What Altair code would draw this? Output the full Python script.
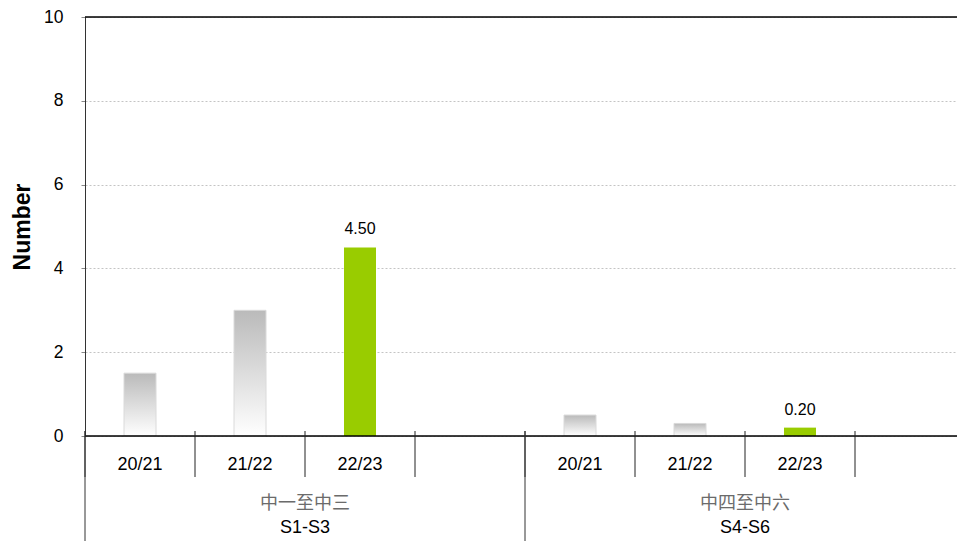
import altair as alt
import pandas as pd

# ---- data ----
years = ["20/21", "21/22", "22/23"]
groups_en = ["S1-S3", "S4-S6"]
groups_zh = ["中一至中三", "中四至中六"]
values_s1_s3 = [1.5, 3.0, 4.5]
values_s4_s6 = [0.5, 0.3, 0.2]
highlight_year = "22/23"
y_ticks = [0, 2, 4, 6, 8, 10]

FONT = "Liberation Sans, Arial, Noto Sans CJK TC"

rows = []
slots = []
for g, vals in zip(groups_en, [values_s1_s3, values_s4_s6]):
    for yr, v in zip(years, vals):
        rows.append({"slot": f"{g}|{yr}", "group": g, "year": yr, "value": v})
        slots.append(f"{g}|{yr}")
    slots.append(f"{g}|gap")
df = pd.DataFrame(rows)
sdf = pd.DataFrame({"slot": slots, "value": [0] * len(slots)})
gdf = pd.DataFrame({
    "group": groups_en, "zh": groups_zh,
    "mid_slot": [f"{g}|{years[1]}" for g in groups_en],
    "first_slot": [f"{g}|{years[0]}" for g in groups_en],
    "value": [0, 0],
})

W, H = 872, 419
RANGE = [0, 880]

xs = alt.Scale(domain=slots, range=RANGE, paddingInner=0, paddingOuter=0)
ys = alt.Scale(domain=[0, 10], nice=False)

x_axis = alt.Axis(
    orient="bottom", title=None, domain=False, ticks=False, labelAngle=0,
    labelExpr="indexof(datum.value,'gap') >= 0 ? '' : split(datum.value,'|')[1]",
    labelFontSize=18, labelFont=FONT, labelColor="#000", labelPadding=19,
)
x_enc = alt.X("slot:N", scale=xs, sort=slots, axis=x_axis)
y_enc = alt.Y(
    "value:Q", scale=ys,
    axis=alt.Axis(
        values=y_ticks, grid=True, gridDash=[2, 2], gridColor="#c4c4c4",
        domainColor="#333", tickColor="#888", tickSize=4,
        labelFontSize=17.5, labelFont=FONT, labelColor="#000", labelPadding=18,
        title="Number", titleFontSize=23, titleFont=FONT, titleFontWeight="bold",
        titleColor="#000", titlePadding=9,
    ),
)

gray_grad = alt.Gradient(
    gradient="linear", x1=0, x2=0, y1=0, y2=1,
    stops=[alt.GradientStop(color="#bababa", offset=0),
           alt.GradientStop(color="#ffffff", offset=1)],
)

base = alt.Chart(df)
gray_bars = base.transform_filter(alt.datum.year != highlight_year).mark_bar(
    size=32, color=gray_grad, stroke="#dadada", strokeWidth=1
).encode(x=x_enc, y=y_enc)
green_bars = base.transform_filter(alt.datum.year == highlight_year).mark_bar(
    size=32, color="#99cc00"
).encode(x=x_enc, y=y_enc)
labels = base.transform_filter(alt.datum.year == highlight_year).mark_text(
    font=FONT, fontSize=16, color="#000", baseline="middle", dy=-18
).encode(x=x_enc, y=y_enc, text=alt.Text("value:Q", format=".2f"))

top_line = alt.Chart(pd.DataFrame({"value": [10]})).mark_rule(color="#000", strokeWidth=1.5).encode(
    y=alt.Y("value:Q", scale=ys))
base_line = alt.Chart(pd.DataFrame({"value": [0]})).mark_rule(color="#000", strokeWidth=1.3).encode(
    y=alt.Y("value:Q", scale=ys))

# slot separators (short) and group separators (long)
slot_sep = alt.Chart(sdf).mark_rule(color="#222", strokeWidth=1).encode(
    x=alt.X("slot:N", scale=xs, bandPosition=0),
    y=alt.value(H - 5), y2=alt.value(H + 41),
)
gbase = alt.Chart(gdf)
grp_sep = gbase.mark_rule(color="#333", strokeWidth=1).encode(
    x=alt.X("first_slot:N", scale=xs, bandPosition=0),
    y=alt.value(H - 5), y2=alt.value(H + 105),
)
zh_text = gbase.mark_text(font=FONT, fontSize=18, color="#6b6b6b", baseline="middle", dy=68).encode(
    x=alt.X("mid_slot:N", scale=xs, bandPosition=1), y=alt.Y("value:Q", scale=ys), text="zh:N")
en_text = gbase.mark_text(font=FONT, fontSize=18, color="#000", baseline="middle", dy=92).encode(
    x=alt.X("mid_slot:N", scale=xs, bandPosition=1), y=alt.Y("value:Q", scale=ys), text="group:N")

chart = alt.layer(
    gray_bars, green_bars, labels, top_line, base_line, slot_sep, grp_sep, zh_text, en_text
).properties(
    width=W, height=H,
    autosize=alt.AutoSizeParams(type="none"),
    padding={"left": 85, "top": 17, "right": 0, "bottom": 105},
).configure_view(stroke=None).configure(background="white")

chart.save("out.html", embed_options={"renderer": "svg", "actions": False})
